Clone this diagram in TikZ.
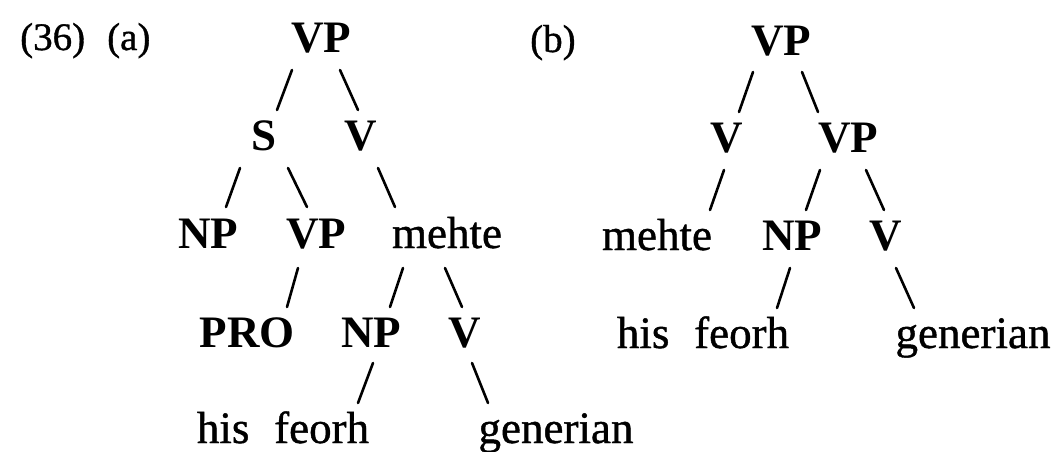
\documentclass[tikz,border=0pt]{standalone}
\usepackage{fontspec}
\setmainfont{Liberation Serif}
\newfontfamily\heavyserif{Liberation Serif}[UprightFeatures={FakeBold=0.9}]
\usetikzlibrary{calc}
\tikzset{
  cat/.style={anchor=base, inner sep=0pt, font=\fontsize{45}{50}\selectfont\bfseries},
  word/.style={anchor=base, inner sep=0pt, font=\heavyserif\fontsize{45}{50}\selectfont},
  lbl/.style={anchor=base west, inner sep=0pt, font=\heavyserif\fontsize{39}{44}\selectfont},
  branch/.style={line width=2.6pt, line cap=round},
}
\newcommand\treeedge[6]{\draw[branch] ($(#1.base)+(#2,#3)$) -- ($(#4.base)+(#5,#6)$);}
\begin{document}
\begin{tikzpicture}[x=1pt,y=-1pt]
\useasboundingbox[fill=white] (0,0) rectangle (1057,451);
% labels
\node[lbl] (ex) at (20,50) {(36)};
\node[lbl] (la) at (107,50) {(a)};
\node[lbl] (lb) at (530,52) {(b)};
% tree (a)
\node[cat] (VPa) at (321,52) {VP};
\node[cat] (Sa) at (264,150) {S};
\node[cat] (Va) at (361,150) {V};
\node[cat] (NPa) at (208,248) {NP};
\node[cat] (VPaa) at (316,248) {VP};
\node[word] (mehtea) at (447,248) {mehte};
\node[cat] (PROa) at (247,347) {PRO};
\node[cat] (NPaa) at (371,347) {NP};
\node[cat] (Vaa) at (465,347) {V};
\node[word] (hisa) at (283,443) {his\hspace{0.55em}feorh};
\node[word] (gena) at (556,443) {generian};
% tree (b)
\node[cat] (VPb) at (781,55) {VP};
\node[cat] (Vb) at (727,152) {V};
\node[cat] (VPbb) at (848,152) {VP};
\node[word] (mehteb) at (657,250) {mehte};
\node[cat] (NPb) at (792,250) {NP};
\node[cat] (Vbb) at (886,250) {V};
\node[word] (hisb) at (703,348) {his\hspace{0.55em}feorh};
\node[word] (genb) at (973,348) {generian};
% branches (a)
\treeedge{VPa}{-29}{18}{Sa}{13}{-40}
\treeedge{VPa}{19}{18}{Va}{-3}{-40}
\treeedge{Sa}{-24}{18}{NPa}{18}{-41}
\treeedge{Sa}{24}{18}{VPaa}{-9}{-41}
\treeedge{Va}{17}{18}{mehtea}{-52}{-41}
\treeedge{VPaa}{-18}{20}{PROa}{40}{-40}
\treeedge{mehtea}{-44}{20}{NPaa}{19}{-40}
\treeedge{mehtea}{-2}{20}{Vaa}{-3}{-40}
\treeedge{NPaa}{2}{16}{hisa}{75}{-40}
\treeedge{Vaa}{7}{16}{gena}{-68}{-40}
% branches (b)
\treeedge{VPb}{-28}{17}{Vb}{12}{-40}
\treeedge{VPb}{21}{17}{VPbb}{-30}{-40}
\treeedge{Vb}{-3}{18}{mehteb}{53}{-40}
\treeedge{VPbb}{-28}{18}{NPb}{14}{-40}
\treeedge{VPbb}{18}{18}{Vbb}{-2}{-40}
\treeedge{NPb}{-2}{18}{hisb}{74}{-40}
\treeedge{Vbb}{10}{18}{genb}{-59}{-40}
\end{tikzpicture}
\end{document}
